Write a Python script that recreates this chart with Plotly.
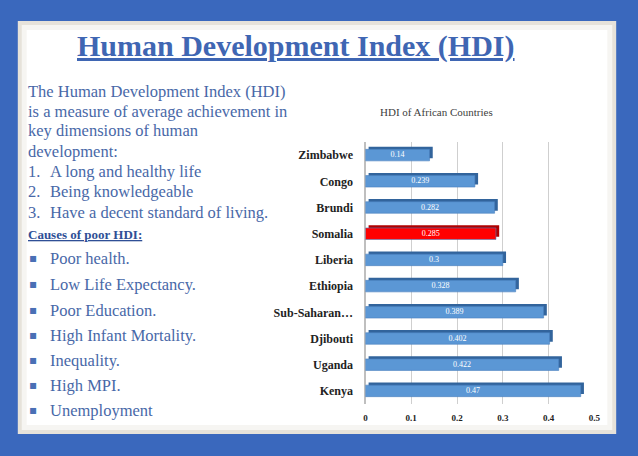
import plotly.graph_objects as go

countries = ["Zimbabwe", "Congo", "Brundi", "Somalia", "Liberia", "Ethiopia",
             "Sub-Saharan Africa", "Djibouti", "Uganda", "Kenya"]
country_labels = ["Zimbabwe", "Congo", "Brundi", "Somalia", "Liberia", "Ethiopia",
                  "Sub-Saharan…", "Djibouti", "Uganda", "Kenya"]
hdi = [0.14, 0.239, 0.282, 0.285, 0.3, 0.328, 0.389, 0.402, 0.422, 0.47]
highlight = "Somalia"
x_ticks = [0, 0.1, 0.2, 0.3, 0.4, 0.5]
x_tick_labels = ["0", "0.1", "0.2", "0.3", "0.4", "0.5"]

slide_title = "Human Development Index (HDI)"
chart_title = "HDI of African Countries"
intro_lines = ["The Human Development Index (HDI)",
               "is a measure of average achievement in",
               "key dimensions of human",
               "development:"]
numbered = ["A long and healthy life", "Being knowledgeable",
            "Have a decent standard of living."]
causes_heading = "Causes of poor HDI:"
causes = ["Poor health.", "Low Life Expectancy.", "Poor Education.",
          "High Infant Mortality.", "Inequality.", "High MPI.", "Unemployment"]

W, H = 638, 456
SERIF = "Liberation Serif"
TEXT_BLUE = "#4868a8"

face = ["#ff0000" if c == highlight else "#5b97d5" for c in countries]
side = ["#b00000" if c == highlight else "#32649c" for c in countries]
depth = 0.007

fig = go.Figure()
fig.add_trace(go.Bar(
    y=countries, x=hdi, base=depth, orientation="h",
    marker=dict(color=side, line=dict(width=0)),
    width=0.44, offset=-0.32, hoverinfo="skip", showlegend=False))
fig.add_trace(go.Bar(
    y=countries, x=hdi, orientation="h",
    marker=dict(color=face, line=dict(width=0.6, color="#4a80bd")),
    width=0.44, offset=-0.22, showlegend=False))
fig.add_trace(go.Scatter(
    y=countries, x=[v / 2 for v in hdi], mode="text",
    text=[str(v) for v in hdi], textposition="middle center",
    textfont=dict(family=SERIF, size=8, color="white"),
    hoverinfo="skip", showlegend=False))


def px(x):
    return x / W


def py(y):
    return 1 - y / H


fig.update_layout(
    width=W, height=H, margin=dict(l=0, r=0, t=0, b=0),
    paper_bgcolor="#3a68bd", plot_bgcolor="rgba(0,0,0,0)",
    barmode="overlay", showlegend=False,
    xaxis=dict(domain=[px(368), px(600)], range=[0, 0.5],
               tickvals=x_ticks, ticktext=["<b>%s</b>" % t for t in x_tick_labels],
               tickfont=dict(family=SERIF, size=9, color="#222"),
               showgrid=True, gridcolor="#cfcfcf", gridwidth=1,
               zeroline=True, zerolinecolor="#bfbfbf",
               ticks="outside", ticklen=5, tickcolor="rgba(0,0,0,0)",
               showline=False),
    yaxis=dict(domain=[py(404), py(142)], autorange="reversed",
               tickvals=countries, ticktext=["<b>%s</b>" % t for t in country_labels],
               tickfont=dict(family=SERIF, size=12, color="#222"),
               ticks="outside", ticklen=9, tickcolor="rgba(0,0,0,0)",
               showgrid=False, showline=False),
)

shapes = [
    dict(type="rect", xref="paper", yref="paper", x0=px(16), x1=px(622), y0=py(434), y1=py(21),
         fillcolor="#e6e2da", line=dict(width=0), layer="below"),
    dict(type="rect", xref="paper", yref="paper", x0=px(20), x1=px(618), y0=py(430), y1=py(25),
         fillcolor="#f6f5f2", line=dict(width=0), layer="below"),
    dict(type="rect", xref="paper", yref="paper", x0=px(25), x1=px(613), y0=py(425), y1=py(30),
         fillcolor="#ffffff", line=dict(width=0), layer="below"),
]
fig.update_layout(shapes=shapes)

ann = []
ann.append(dict(x=px(298), y=py(46), xref="paper", yref="paper", showarrow=False,
                text="<b><u>%s</u></b>" % slide_title, xanchor="center", yanchor="middle",
                font=dict(family=SERIF, size=30, color="#3f66b3")))
ann.append(dict(x=px(440), y=py(112), xref="paper", yref="paper", showarrow=False,
                text=chart_title, xanchor="center", yanchor="middle",
                font=dict(family=SERIF, size=11, color="#404040")))
intro_y = [91, 111, 131, 151]
for t, yy in zip(intro_lines, intro_y):
    ann.append(dict(x=px(24), y=py(yy), xref="paper", yref="paper", showarrow=False,
                    text=t, xanchor="left", yanchor="middle",
                    font=dict(family=SERIF, size=16.5, color=TEXT_BLUE)))
num_y = [171, 191, 212]
for i, (t, yy) in enumerate(zip(numbered, num_y)):
    ann.append(dict(x=px(24), y=py(yy), xref="paper", yref="paper", showarrow=False,
                    text="%d." % (i + 1), xanchor="left", yanchor="middle",
                    font=dict(family=SERIF, size=16.5, color=TEXT_BLUE)))
    ann.append(dict(x=px(47), y=py(yy), xref="paper", yref="paper", showarrow=False,
                    text=t, xanchor="left", yanchor="middle",
                    font=dict(family=SERIF, size=16.5, color=TEXT_BLUE)))
ann.append(dict(x=px(24), y=py(234), xref="paper", yref="paper", showarrow=False,
                text="<b><u>%s</u></b>" % causes_heading, xanchor="left", yanchor="middle",
                font=dict(family=SERIF, size=13, color="#2f4f96")))
cause_y = [258, 284, 310, 335, 360, 385, 410]
for t, yy in zip(causes, cause_y):
    ann.append(dict(x=px(25), y=py(yy), xref="paper", yref="paper", showarrow=False,
                    text="▪", xanchor="left", yanchor="middle",
                    font=dict(family="DejaVu Sans", size=12, color="#4a6fb5")))
    ann.append(dict(x=px(47), y=py(yy), xref="paper", yref="paper", showarrow=False,
                    text=t, xanchor="left", yanchor="middle",
                    font=dict(family=SERIF, size=16.5, color=TEXT_BLUE)))
fig.update_layout(annotations=ann)

fig.write_html("out.html", config={"displayModeBar": False},
               post_script="document.body.style.margin='0';document.body.style.padding='0';")
